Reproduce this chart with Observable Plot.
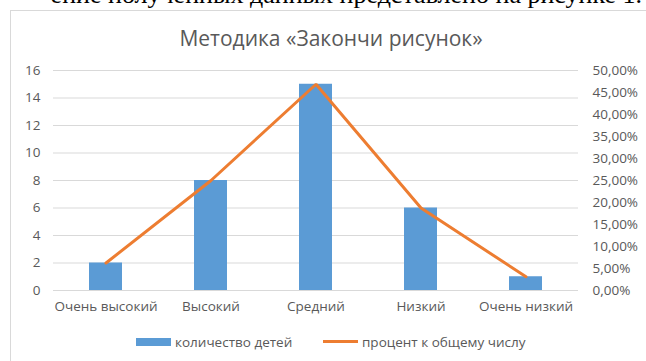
<!DOCTYPE html>
<html lang="ru">
<head>
<meta charset="utf-8">
<script src="https://cdn.jsdelivr.net/npm/d3@7"></script>
<script src="https://cdn.jsdelivr.net/npm/@observablehq/plot@0.6"></script>
<style>
  html, body { margin: 0; padding: 0; background: #fff; }
  #page { position: relative; width: 646px; height: 361px; overflow: hidden; background: #fff; }
  #doc-line { position: absolute; right: 4px; top: -20px; white-space: nowrap;
    font-family: "Liberation Serif", "DejaVu Serif", serif; font-size: 26px; color: #000; }
  #frame { position: absolute; left: 10px; top: 10px; width: 700px; height: 400px;
    border: 1px solid #d9d9d9; box-sizing: border-box; }
  #title { position: absolute; left: 0; width: 662px; top: 24px; text-align: center;
    font-family: "Open Sans", sans-serif; font-size: 21px; color: #595959; }
  #chart { position: absolute; left: 0; top: 0; }
  .legend { position: absolute; top: 332px; font-family: "Open Sans", sans-serif;
    font-size: 13.5px; color: #595959; line-height: 20px; white-space: nowrap; }
  .swatch { position: absolute; }
</style>
</head>
<body>
<div id="page">
  <div id="doc-line">ение полученных данных представлено на рисунке 1.</div>
  <div id="frame"></div>
  <div id="title">Методика «Закончи рисунок»</div>
  <div id="chart"></div>
  <div class="swatch" style="left:136px; top:338px; width:35px; height:8px; background:#5B9BD5;"></div>
  <div class="legend" style="left:175px;">количество детей</div>
  <div class="swatch" style="left:323px; top:340px; width:35px; height:3px; background:#ED7D31;"></div>
  <div class="legend" style="left:362px;">процент к общему числу</div>
</div>
<script>
// Levels of the drawing test and the number of children at each level
const categories = ["Очень высокий", "Высокий", "Средний", "Низкий", "Очень низкий"];
const counts = [2, 8, 15, 6, 1];
// Share of all children at each level
const percents = [0.0625, 0.25, 0.46875, 0.1875, 0.03125];

// Tick values for the two vertical axes
const countTicks = [0, 2, 4, 6, 8, 10, 12, 14, 16];
const percentTicks = [0, 0.05, 0.10, 0.15, 0.20, 0.25, 0.30, 0.35, 0.40, 0.45, 0.50];

// The secondary (percent) axis shares the plot height: 50 % lines up with 16
const countMax = 16;
const percentMax = 0.5;
const k = countMax / percentMax;

const rows = categories.map((category, i) => ({category, count: counts[i], percent: percents[i]}));

const fmtPercent = (p) => (p * 100).toFixed(2).replace(".", ",") + "%";

const chart = Plot.plot({
  width: 646,
  height: 320,
  marginLeft: 53,
  marginRight: 68,
  marginTop: 70,
  marginBottom: 30,
  style: {fontFamily: "Open Sans, sans-serif", fontSize: "13.5px", color: "#595959", background: "transparent", overflow: "visible"},
  x: {domain: categories, paddingInner: 0.69, paddingOuter: 0.345},
  y: {domain: [0, countMax]},
  marks: [
    Plot.gridY(countTicks, {stroke: "#d9d9d9", strokeOpacity: 1, strokeWidth: 1}),
    Plot.barY(rows, {x: "category", y: "count", fill: "#5B9BD5"}),
    Plot.lineY(rows, {x: "category", y: (d) => d.percent * k, stroke: "#ED7D31", strokeWidth: 3, strokeLinejoin: "miter", strokeLinecap: "round"}),
    Plot.axisX({tickSize: 0, tickPadding: 11, label: null, fill: "#595959"}),
    Plot.axisY(countTicks, {anchor: "left", tickSize: 0, tickPadding: 13, label: null, fill: "#595959"}),
    Plot.axisY(percentTicks.map((p) => p * k), {anchor: "right", tickSize: 0, tickPadding: 14, label: null, fill: "#595959",
      tickFormat: (d) => fmtPercent(d / k)})
  ]
});
document.getElementById("chart").appendChild(chart);
</script>
</body>
</html>
